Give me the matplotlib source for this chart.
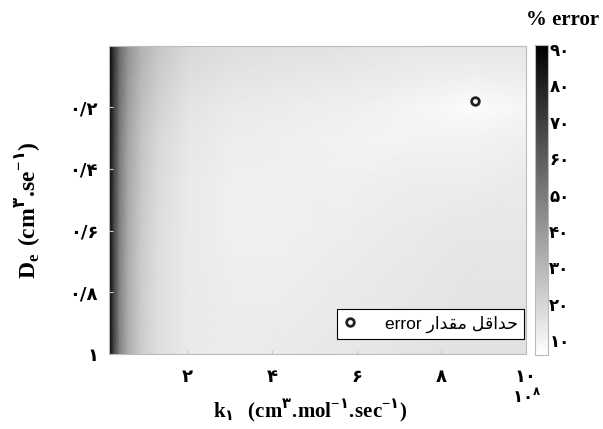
import matplotlib
matplotlib.use("Agg")
import matplotlib.pyplot as plt
import numpy as np

# ---- data ----
k_nodes = [0.15, 0.25, 0.4, 0.6, 0.9, 1.3, 2.0, 3.0, 4.5, 6.0, 7.5, 8.8, 10.0]   # x 10^8
de_nodes = [0.0, 0.1, 0.2, 0.3, 0.45, 0.6, 0.8, 1.0]
err_rows = [
    [91, 75, 55, 42, 32, 25, 19, 17, 16, 15, 14, 14, 14],
    [91, 74, 54, 40, 30, 23, 17, 15, 14, 13, 12, 11, 12],
    [90, 73, 52, 38, 28, 21, 15, 13, 12, 11, 9, 7, 9],
    [90, 72, 50, 36, 26, 19, 14, 12, 11, 10, 10, 10, 11],
    [90, 71, 49, 35, 25, 18, 13, 11, 11, 11, 12, 12, 13],
    [90, 70, 48, 34, 24, 17, 13, 11, 11, 12, 13, 14, 14],
    [90, 70, 47, 33, 23, 17, 13, 12, 12, 13, 14, 15, 15],
    [90, 70, 47, 33, 23, 17, 13, 12, 13, 14, 15, 16, 16],
]
min_k = [8.8]
min_de = [0.18]
xticks = [2, 4, 6, 8, 10]
xticklabels = ["۲", "۴", "۶", "۸", "۱۰"]
yticks = [0.2, 0.4, 0.6, 0.8, 1.0]
yticklabels = ["۰/۲", "۰/۴", "۰/۶", "۰/۸", "۱"]
cticks = [10, 20, 30, 40, 50, 60, 70, 80, 90]
cticklabels = ["۱۰", "۲۰", "۳۰", "۴۰", "۵۰", "۶۰", "۷۰", "۸۰", "۹۰"]
vmin, vmax = 6, 91

plt.rcParams['mathtext.fontset'] = 'custom'
plt.rcParams['mathtext.rm'] = 'Liberation Serif:bold'
plt.rcParams['mathtext.bf'] = 'Liberation Serif:bold'
plt.rcParams['mathtext.sf'] = 'DejaVu Sans:bold'

fig = plt.figure(figsize=(6.03, 4.29), dpi=100)
ax = fig.add_axes([0.181, 0.175, 0.691, 0.7185])
cax = fig.add_axes([0.887, 0.1725, 0.0216, 0.7225])

X, Y = np.meshgrid(k_nodes, de_nodes)
Z = np.array(err_rows, dtype=float)
mesh = ax.pcolormesh(X, Y, Z, shading='gouraud', cmap='gray_r', vmin=vmin, vmax=vmax)
ax.plot(min_k, min_de, 'o', ms=5.5, mfc='none', mec='#222222', mew=2)
ax.set_xlim(0.15, 10)
ax.set_ylim(1.0, 0.0)
ax.set_xticks(xticks)
ax.set_xticklabels(xticklabels, fontfamily='DejaVu Sans', fontweight='bold', fontsize=13)
ax.set_yticks(yticks)
ax.set_yticklabels(yticklabels, fontfamily='DejaVu Sans', fontweight='bold', fontsize=13)
ax.tick_params(direction='in', length=3, color='#cccccc')
ax.tick_params(axis='y', pad=8)
ax.tick_params(axis='x', pad=10)
for s in ax.spines.values():
    s.set_color('#bbbbbb')

# pre-shaped Arabic text in visual order
rtl = "\uFEAD\uFE8D\uFEAA\uFED8\uFEE3 \uFEDE\uFED7\uFE8D\uFEAA\uFEA3"
h, = ax.plot([], [], 'o', ms=5.5, mfc='none', mec='#222222', mew=2)
leg = ax.legend([h], ["error " + rtl], loc='lower right',
                bbox_to_anchor=(1 - 2 / 417, 15 / 308), borderaxespad=0,
                frameon=True, fancybox=False, edgecolor='black', framealpha=1,
                handlelength=0.8, handletextpad=1.6, borderpad=0.35,
                prop={'family': ['Liberation Sans', 'DejaVu Sans'], 'size': 12.5})
leg.get_frame().set_linewidth(0.8)

cb = fig.colorbar(mesh, cax=cax, ticks=cticks)
cb.ax.set_yticklabels(cticklabels, fontfamily='DejaVu Sans', fontweight='bold', fontsize=12)
cb.ax.tick_params(length=0, pad=1)
cb.outline.set_edgecolor('#bbbbbb')

fig.text(0.933, 0.953, "% error", ha='center', va='center', fontfamily='Liberation Serif',
         fontweight='bold', fontsize=15)

xlabel = (r'$\mathbf{k}_{\mathsf{۱}}\ \ \mathbf{(cm}^{\mathsf{۳}}\mathbf{.}\!\mathbf{mol}'
          r'^{\mathbf{-}\mathsf{۱}}\mathbf{.}\!\mathbf{sec}^{\mathbf{-}\mathsf{۱}}\mathbf{)}$')
fig.text(0.515, 0.043, xlabel, ha='center', va='center', fontsize=15)
ylabel = (r'$\mathbf{D}_{\mathbf{e}}\ \mathbf{(cm}^{\mathsf{۳}}\mathbf{.}\!\mathbf{se}'
          r'^{\mathbf{-}\mathsf{۱}}\mathbf{)}$')
fig.text(0.045, 0.51, ylabel, ha='center', va='center', rotation=90, fontsize=17)

fig.text(0.873, 0.072, "۱۰" + r'$^{\mathsf{۸}}$', ha='center', va='center',
         fontfamily='DejaVu Sans', fontweight='bold', fontsize=12)

fig.savefig("out.png", dpi=100)
